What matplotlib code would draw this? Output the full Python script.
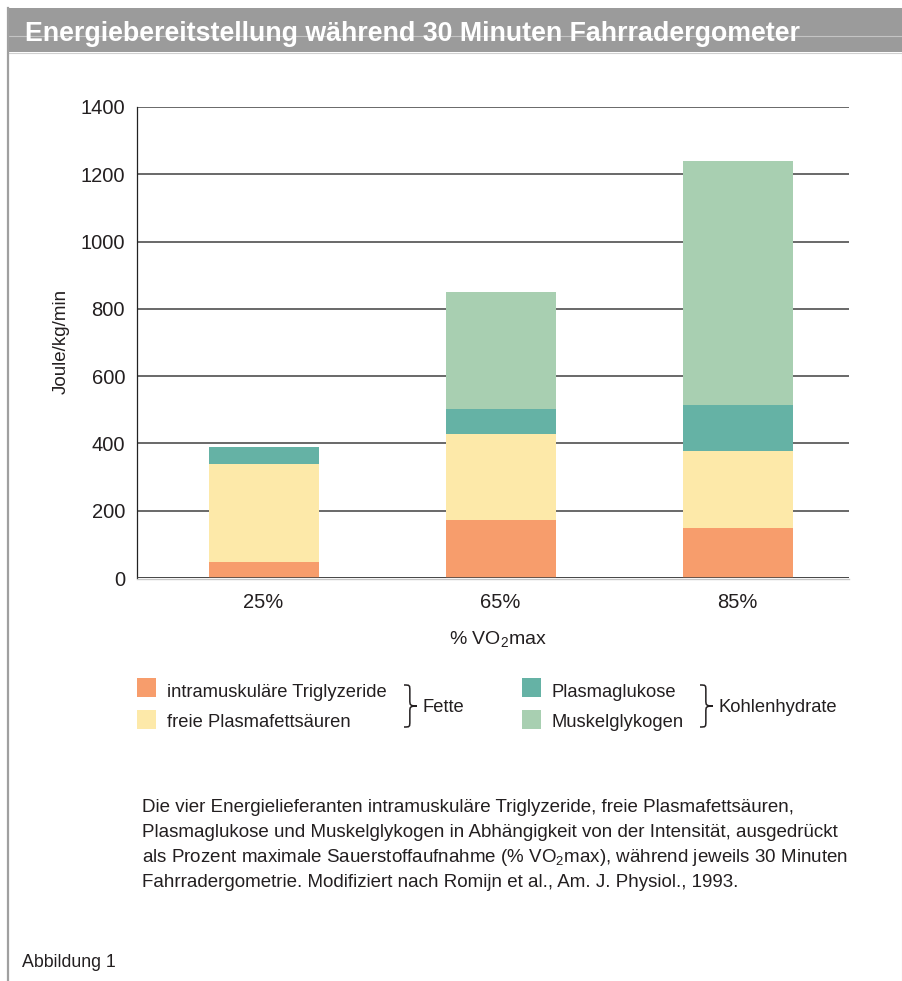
import matplotlib
matplotlib.use("Agg")
import matplotlib.pyplot as plt
import numpy as np
from matplotlib.patches import Rectangle, PathPatch
from matplotlib.path import Path
from matplotlib.lines import Line2D

plt.rcParams['font.family'] = ['Liberation Sans', 'DejaVu Sans']
plt.rcParams['mathtext.fontset'] = 'custom'
plt.rcParams['mathtext.rm'] = 'Liberation Sans'
plt.rcParams['mathtext.it'] = 'Liberation Sans:italic'
plt.rcParams['mathtext.bf'] = 'Liberation Sans:bold'

# Daten (Joule/kg/min)
intensitaet = ['25%', '65%', '85%']
triglyzeride = [48, 173, 150]
fettsaeuren = [290, 255, 228]
glukose = [52, 75, 137]
glykogen = [0, 347, 725]

serien = [triglyzeride, fettsaeuren, glukose, glykogen]
namen = ['intramuskuläre Triglyzeride', 'freie Plasmafettsäuren',
         'Plasmaglukose', 'Muskelglykogen']
farben = ['#F79D6C', '#FDE9A9', '#65B2A5', '#A8CFB1']
yticks = [0, 200, 400, 600, 800, 1000, 1200, 1400]

titel = 'Energiebereitstellung während 30 Minuten Fahrradergometer'
legende_text = ['Die vier Energielieferanten intramuskuläre Triglyzeride, freie Plasmafettsäuren,',
                'Plasmaglukose und Muskelglykogen in Abhängigkeit von der Intensität, ausgedrückt',
                'als Prozent maximale Sauerstoffaufnahme (% VO$_2$max), während jeweils 30 Minuten',
                'Fahrradergometrie. Modifiziert nach Romijn et al., Am. J. Physiol., 1993.']

W, H = 903, 981
fig = plt.figure(figsize=(W / 100, H / 100), dpi=100)
fig.patch.set_facecolor('white')
TXT = '#231f20'


def fx(x):
    return x / W


def fy(y):
    return 1 - y / H


def fit(t, width_px):
    r = fig.canvas.get_renderer()
    bb = t.get_window_extent(r)
    t.set_fontsize(t.get_fontsize() * width_px / bb.width)


# Rahmen + Titelbalken
fig.patches.append(Rectangle((fx(8), fy(52)), fx(W - 8), 44 / H, transform=fig.transFigure,
                             facecolor='#9b9b9b', edgecolor='none', zorder=0))
fig.lines.append(Line2D([fx(8), 1], [fy(36), fy(36)], transform=fig.transFigure,
                        color='#c4c4c4', lw=0.8, zorder=1))
fig.lines.append(Line2D([fx(8), 1], [fy(52.5), fy(52.5)], transform=fig.transFigure,
                        color='#d0d0d0', lw=0.8, zorder=1))
fig.lines.append(Line2D([fx(8), fx(8)], [fy(8), 0], transform=fig.transFigure,
                        color='#a0a0a0', lw=1.6, zorder=1))
fig.lines.append(Line2D([fx(902), fx(902)], [fy(52), 0], transform=fig.transFigure,
                        color='#dadada', lw=0.8, zorder=1))
t = fig.text(fx(25), fy(41), titel, color='white', fontweight='bold', fontsize=18, va='baseline')
fit(t, 775)

# Diagramm
ax = fig.add_axes([fx(137), fy(578), fx(849 - 137), (578 - 107) / H])
x = np.arange(len(intensitaet))
unten = np.zeros(len(intensitaet))
for werte, farbe in zip(serien, farben):
    ax.bar(x, werte, width=0.464, bottom=unten, color=farbe, edgecolor='none', zorder=3)
    unten += np.array(werte)

ax.set_xlim(-0.534, 2.47)
ax.set_ylim(0, 1400)
ax.set_yticks(yticks)
ax.set_xticks(x)
ax.set_xticklabels(intensitaet)
ax.yaxis.grid(True, color='#404040', lw=1.1, zorder=0)
ax.set_axisbelow(True)
for s in ['top', 'right', 'bottom']:
    ax.spines[s].set_visible(False)
ax.spines['left'].set_color('#222222')
ax.spines['left'].set_linewidth(0.9)
ax.tick_params(axis='both', length=0, labelsize=14.5, labelcolor=TXT)
ax.tick_params(axis='y', pad=8.6)
ax.tick_params(axis='x', pad=10.5)
ax.axhline(0, color='#404040', lw=1.1, zorder=4)
ax.axhline(-3, color='#c8c8c8', lw=1.0, zorder=4, clip_on=False)

fig.text(fx(498), fy(644), '% VO$_2$max', fontsize=14, color=TXT, ha='center', va='baseline')
fig.text(fx(61), fy(341), 'Joule/kg/min', fontsize=13.5, color=TXT, ha='center', va='center',
         rotation=90)

# Legende
legend_pos = [(137, 678), (137, 710), (522, 678), (522, 710)]
text_base = [697, 727, 697, 727]
for (lx, ly), tb, farbe, name in zip(legend_pos, text_base, farben, namen):
    fig.patches.append(Rectangle((fx(lx), fy(ly + 19)), 19 / W, 19 / H, transform=fig.transFigure,
                                 facecolor=farbe, edgecolor='none'))
    tt = fig.text(fx(lx + 30), fy(tb), name, fontsize=13, color=TXT, va='baseline')
    if name == namen[0]:
        fit(tt, 220)
        lfs = tt.get_fontsize()
    else:
        tt.set_fontsize(lfs)


def klammer(x0, ytop, ybot, w=13):
    xm = x0 + w * 0.45
    xt = x0 + w
    ym = (ytop + ybot) / 2
    pts = [(x0, ytop), (xm, ytop), (xm, ytop), (xm, ytop + 6),
           (xm, ym - 6),
           (xm, ym - 1), (xm, ym), (xt, ym),
           (xm, ym), (xm, ym + 1), (xm, ym + 6),
           (xm, ybot - 6),
           (xm, ybot), (xm, ybot), (x0, ybot)]
    codes = [Path.MOVETO, Path.CURVE4, Path.CURVE4, Path.CURVE4,
             Path.LINETO,
             Path.CURVE4, Path.CURVE4, Path.CURVE4,
             Path.CURVE4, Path.CURVE4, Path.CURVE4,
             Path.LINETO,
             Path.CURVE4, Path.CURVE4, Path.CURVE4]
    pts = [(fx(a), fy(b)) for a, b in pts]
    fig.patches.append(PathPatch(Path(pts, codes), transform=fig.transFigure,
                                 facecolor='none', edgecolor=TXT, lw=1.1))


klammer(404, 685, 727)
klammer(700, 685, 727)
fig.text(fx(423), fy(712), 'Fette', fontsize=lfs, color=TXT, va='baseline')
fig.text(fx(719), fy(712), 'Kohlenhydrate', fontsize=lfs, color=TXT, va='baseline')

# Bildunterschrift
for i, zeile in enumerate(legende_text):
    tt = fig.text(fx(142), fy(812 + 25 * i), zeile, fontsize=12, color=TXT, va='baseline')
    if i == 0:
        fit(tt, 655)
        cfs = tt.get_fontsize()
    else:
        tt.set_fontsize(cfs)

fig.text(fx(22), fy(967), 'Abbildung 1', fontsize=cfs * 0.95, color=TXT, va='baseline')

fig.savefig('out.png', dpi=100)
